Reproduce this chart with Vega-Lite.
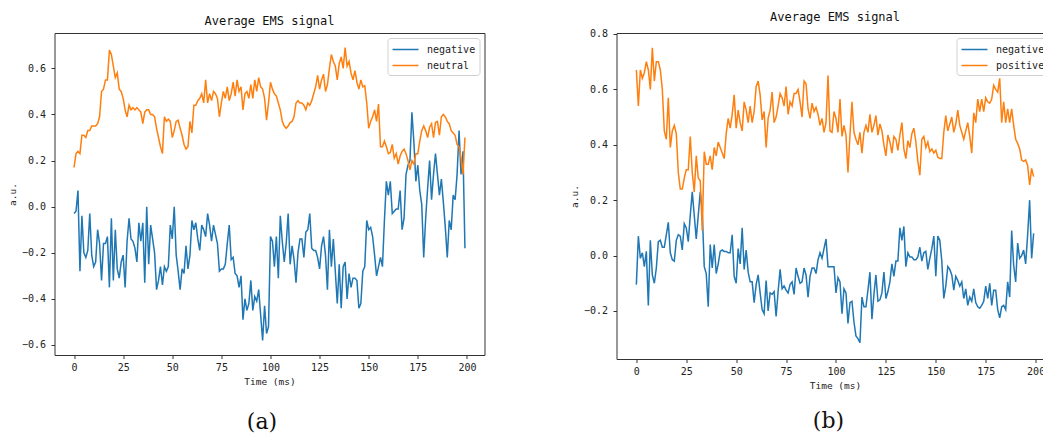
{
"$schema":"https://vega.github.io/schema/vega-lite/v6.json",
"padding":{"left":6.5,"top":10,"right":0,"bottom":0},
"background":"white",
"config":{
"font":"DejaVu Sans Mono",
"view":{"stroke":"#333","strokeWidth":1},
"axis":{"domain":false,"grid":false,"ticks":true,"tickColor":"#333","tickSize":3.5,"labelFont":"DejaVu Sans Mono","labelFontSize":10,"labelColor":"#222","titleFont":"DejaVu Sans Mono","titleFontSize":9.5,"titleFontWeight":"normal","titleColor":"#222"},
"axisX":{"labelPadding":3.5,"titlePadding":4},
"axisY":{"labelPadding":5.5,"titlePadding":4},
"title":{"font":"DejaVu Sans Mono","fontSize":12,"fontWeight":"normal","color":"#111","offset":5},
"legend":{"orient":"top-right","offset":5,"symbolType":"M-2,0H2","symbolSize":169,"symbolOffset":6.5,"symbolStrokeWidth":1.5,"labelFont":"DejaVu Sans Mono","labelFontSize":10,"labelColor":"#222","labelOffset":14,"fillColor":"white","strokeColor":"#d0d0d0","padding":4,"cornerRadius":3,"rowPadding":3}
},
"resolve":{"scale":{"color":"independent"},"legend":{"color":"independent"}},
"spacing":83,
"datasets":{
"a":[
{"t":0,"negative":-0.03,"neutral":0.17},{"t":1,"negative":-0.02,"neutral":0.23},{"t":2,"negative":0.07,"neutral":0.24},{"t":3,"negative":-0.28,"neutral":0.23},{"t":4,"negative":-0.04,"neutral":0.31},{"t":5,"negative":-0.2,"neutral":0.31},{"t":6,"negative":-0.22,"neutral":0.3},{"t":7,"negative":-0.19,"neutral":0.33},{"t":8,"negative":-0.03,"neutral":0.33},{"t":9,"negative":-0.21,"neutral":0.35},
{"t":10,"negative":-0.26,"neutral":0.35},{"t":11,"negative":-0.24,"neutral":0.35},{"t":12,"negative":-0.1,"neutral":0.36},{"t":13,"negative":-0.16,"neutral":0.39},{"t":14,"negative":-0.32,"neutral":0.5},{"t":15,"negative":-0.16,"neutral":0.51},{"t":16,"negative":-0.16,"neutral":0.55},{"t":17,"negative":-0.13,"neutral":0.55},{"t":18,"negative":-0.35,"neutral":0.68},{"t":19,"negative":-0.05,"neutral":0.66},
{"t":20,"negative":-0.32,"neutral":0.61},{"t":21,"negative":-0.1,"neutral":0.56},{"t":22,"negative":-0.27,"neutral":0.58},{"t":23,"negative":-0.31,"neutral":0.51},{"t":24,"negative":-0.24,"neutral":0.5},{"t":25,"negative":-0.21,"neutral":0.47},{"t":26,"negative":-0.35,"neutral":0.42},{"t":27,"negative":-0.15,"neutral":0.39},{"t":28,"negative":-0.05,"neutral":0.44},{"t":29,"negative":-0.14,"neutral":0.42},
{"t":30,"negative":-0.15,"neutral":0.43},{"t":31,"negative":-0.18,"neutral":0.42},{"t":32,"negative":-0.24,"neutral":0.43},{"t":33,"negative":-0.07,"neutral":0.42},{"t":34,"negative":-0.15,"neutral":0.41},{"t":35,"negative":-0.07,"neutral":0.36},{"t":36,"negative":-0.33,"neutral":0.41},{"t":37,"negative":0.0,"neutral":0.42},{"t":38,"negative":-0.25,"neutral":0.42},{"t":39,"negative":-0.08,"neutral":0.4},
{"t":40,"negative":-0.14,"neutral":0.4},{"t":41,"negative":-0.2,"neutral":0.39},{"t":42,"negative":-0.36,"neutral":0.34},{"t":43,"negative":-0.32,"neutral":0.3},{"t":44,"negative":-0.26,"neutral":0.26},{"t":45,"negative":-0.34,"neutral":0.23},{"t":46,"negative":-0.26,"neutral":0.39},{"t":47,"negative":-0.28,"neutral":0.37},{"t":48,"negative":-0.26,"neutral":0.38},{"t":49,"negative":-0.08,"neutral":0.37},
{"t":50,"negative":-0.14,"neutral":0.3},{"t":51,"negative":0.0,"neutral":0.33},{"t":52,"negative":-0.21,"neutral":0.37},{"t":53,"negative":-0.28,"neutral":0.375},{"t":54,"negative":-0.36,"neutral":0.34},{"t":55,"negative":-0.27,"neutral":0.31},{"t":56,"negative":-0.29,"neutral":0.27},{"t":57,"negative":-0.17,"neutral":0.25},{"t":58,"negative":-0.27,"neutral":0.26},{"t":59,"negative":-0.21,"neutral":0.37},
{"t":60,"negative":-0.06,"neutral":0.32},{"t":61,"negative":-0.1,"neutral":0.44},{"t":62,"negative":-0.07,"neutral":0.44},{"t":63,"negative":-0.14,"neutral":0.46},{"t":64,"negative":-0.19,"neutral":0.47},{"t":65,"negative":-0.08,"neutral":0.49},{"t":66,"negative":-0.1,"neutral":0.45},{"t":67,"negative":-0.13,"neutral":0.55},{"t":68,"negative":-0.03,"neutral":0.45},{"t":69,"negative":-0.08,"neutral":0.49},
{"t":70,"negative":-0.15,"neutral":0.46},{"t":71,"negative":-0.08,"neutral":0.5},{"t":72,"negative":-0.12,"neutral":0.49},{"t":73,"negative":-0.16,"neutral":0.47},{"t":74,"negative":-0.28,"neutral":0.39},{"t":75,"negative":-0.27,"neutral":0.45},{"t":76,"negative":-0.27,"neutral":0.5},{"t":77,"negative":-0.25,"neutral":0.47},{"t":78,"negative":-0.16,"neutral":0.52},{"t":79,"negative":-0.08,"neutral":0.46},
{"t":80,"negative":-0.23,"neutral":0.49},{"t":81,"negative":-0.22,"neutral":0.54},{"t":82,"negative":-0.29,"neutral":0.48},{"t":83,"negative":-0.3,"neutral":0.55},{"t":84,"negative":-0.35,"neutral":0.5},{"t":85,"negative":-0.3,"neutral":0.52},{"t":86,"negative":-0.49,"neutral":0.42},{"t":87,"negative":-0.4,"neutral":0.49},{"t":88,"negative":-0.45,"neutral":0.5},{"t":89,"negative":-0.42,"neutral":0.47},
{"t":90,"negative":-0.32,"neutral":0.53},{"t":91,"negative":-0.45,"neutral":0.47},{"t":92,"negative":-0.39,"neutral":0.55},{"t":93,"negative":-0.41,"neutral":0.5},{"t":94,"negative":-0.36,"neutral":0.56},{"t":95,"negative":-0.47,"neutral":0.52},{"t":96,"negative":-0.58,"neutral":0.51},{"t":97,"negative":-0.43,"neutral":0.47},{"t":98,"negative":-0.55,"neutral":0.375},{"t":99,"negative":-0.52,"neutral":0.45},
{"t":100,"negative":-0.13,"neutral":0.54},{"t":101,"negative":-0.15,"neutral":0.51},{"t":102,"negative":-0.26,"neutral":0.49},{"t":103,"negative":-0.13,"neutral":0.48},{"t":104,"negative":-0.31,"neutral":0.45},{"t":105,"negative":-0.04,"neutral":0.42},{"t":106,"negative":-0.15,"neutral":0.37},{"t":107,"negative":-0.24,"neutral":0.35},{"t":108,"negative":-0.16,"neutral":0.34},{"t":109,"negative":-0.03,"neutral":0.35},
{"t":110,"negative":-0.25,"neutral":0.365},{"t":111,"negative":-0.17,"neutral":0.37},{"t":112,"negative":-0.23,"neutral":0.39},{"t":113,"negative":-0.33,"neutral":0.45},{"t":114,"negative":-0.2,"neutral":0.46},{"t":115,"negative":-0.14,"neutral":0.45},{"t":116,"negative":-0.14,"neutral":0.45},{"t":117,"negative":-0.22,"neutral":0.44},{"t":118,"negative":-0.11,"neutral":0.42},{"t":119,"negative":-0.1,"neutral":0.45},
{"t":120,"negative":-0.03,"neutral":0.44},{"t":121,"negative":-0.18,"neutral":0.46},{"t":122,"negative":-0.19,"neutral":0.49},{"t":123,"negative":-0.19,"neutral":0.52},{"t":124,"negative":-0.22,"neutral":0.57},{"t":125,"negative":-0.27,"neutral":0.51},{"t":126,"negative":-0.17,"neutral":0.55},{"t":127,"negative":-0.13,"neutral":0.575},{"t":128,"negative":-0.21,"neutral":0.5},{"t":129,"negative":-0.36,"neutral":0.53},
{"t":130,"negative":-0.1,"neutral":0.6},{"t":131,"negative":-0.26,"neutral":0.66},{"t":132,"negative":-0.14,"neutral":0.63},{"t":133,"negative":-0.28,"neutral":0.61},{"t":134,"negative":-0.42,"neutral":0.55},{"t":135,"negative":-0.25,"neutral":0.62},{"t":136,"negative":-0.44,"neutral":0.65},{"t":137,"negative":-0.26,"neutral":0.6},{"t":138,"negative":-0.24,"neutral":0.69},{"t":139,"negative":-0.4,"neutral":0.61},
{"t":140,"negative":-0.29,"neutral":0.63},{"t":141,"negative":-0.35,"neutral":0.58},{"t":142,"negative":-0.31,"neutral":0.55},{"t":143,"negative":-0.31,"neutral":0.59},{"t":144,"negative":-0.32,"neutral":0.54},{"t":145,"negative":-0.44,"neutral":0.51},{"t":146,"negative":-0.42,"neutral":0.55},{"t":147,"negative":-0.28,"neutral":0.52},{"t":148,"negative":-0.26,"neutral":0.525},{"t":149,"negative":-0.06,"neutral":0.45},
{"t":150,"negative":-0.1,"neutral":0.34},{"t":151,"negative":-0.09,"neutral":0.37},{"t":152,"negative":-0.13,"neutral":0.39},{"t":153,"negative":-0.21,"neutral":0.42},{"t":154,"negative":-0.3,"neutral":0.37},{"t":155,"negative":-0.26,"neutral":0.445},{"t":156,"negative":-0.22,"neutral":0.26},{"t":157,"negative":-0.26,"neutral":0.26},{"t":158,"negative":-0.06,"neutral":0.285},{"t":159,"negative":0.11,"neutral":0.26},
{"t":160,"negative":0.05,"neutral":0.23},{"t":161,"negative":0.11,"neutral":0.235},{"t":162,"negative":-0.03,"neutral":0.27},{"t":163,"negative":-0.02,"neutral":0.21},{"t":164,"negative":-0.01,"neutral":0.23},{"t":165,"negative":-0.01,"neutral":0.185},{"t":166,"negative":0.07,"neutral":0.22},{"t":167,"negative":-0.1,"neutral":0.24},{"t":168,"negative":-0.05,"neutral":0.25},{"t":169,"negative":0.14,"neutral":0.23},
{"t":170,"negative":0.18,"neutral":0.2},{"t":171,"negative":0.2,"neutral":0.16},{"t":172,"negative":0.41,"neutral":0.2},{"t":173,"negative":0.28,"neutral":0.185},{"t":174,"negative":0.11,"neutral":0.23},{"t":175,"negative":0.18,"neutral":0.23},{"t":176,"negative":0.07,"neutral":0.285},{"t":177,"negative":0.01,"neutral":0.33},{"t":178,"negative":-0.22,"neutral":0.35},{"t":179,"negative":-0.05,"neutral":0.33},
{"t":180,"negative":0.08,"neutral":0.3},{"t":181,"negative":0.2,"neutral":0.345},{"t":182,"negative":0.03,"neutral":0.36},{"t":183,"negative":0.14,"neutral":0.3},{"t":184,"negative":0.23,"neutral":0.365},{"t":185,"negative":0.14,"neutral":0.37},{"t":186,"negative":0.05,"neutral":0.31},{"t":187,"negative":0.12,"neutral":0.39},{"t":188,"negative":0.02,"neutral":0.4},{"t":189,"negative":-0.09,"neutral":0.39},
{"t":190,"negative":-0.22,"neutral":0.37},{"t":191,"negative":-0.06,"neutral":0.36},{"t":192,"negative":-0.1,"neutral":0.33},{"t":193,"negative":0.05,"neutral":0.32},{"t":194,"negative":0.03,"neutral":0.31},{"t":195,"negative":0.14,"neutral":0.27},{"t":196,"negative":0.33,"neutral":0.26},{"t":197,"negative":0.14,"neutral":0.21},{"t":198,"negative":0.24,"neutral":0.14},{"t":199,"negative":-0.18,"neutral":0.3}
],
"b":[
{"t":0,"negative":-0.105,"positive":0.67},{"t":1,"negative":0.07,"positive":0.54},{"t":2,"negative":-0.01,"positive":0.67},{"t":3,"negative":0.01,"positive":0.64},{"t":4,"negative":-0.04,"positive":0.66},{"t":5,"negative":0.015,"positive":0.7},{"t":6,"negative":-0.18,"positive":0.67},{"t":7,"negative":0.055,"positive":0.6},{"t":8,"negative":-0.07,"positive":0.75},{"t":9,"negative":-0.1,"positive":0.63},
{"t":10,"negative":-0.045,"positive":0.7},{"t":11,"negative":0.05,"positive":0.7},{"t":12,"negative":0.055,"positive":0.67},{"t":13,"negative":0.03,"positive":0.6},{"t":14,"negative":0.03,"positive":0.45},{"t":15,"negative":0.075,"positive":0.42},{"t":16,"negative":0.12,"positive":0.57},{"t":17,"negative":0.01,"positive":0.39},{"t":18,"negative":-0.015,"positive":0.45},{"t":19,"negative":-0.02,"positive":0.47},
{"t":20,"negative":0.055,"positive":0.44},{"t":21,"negative":0.075,"positive":0.3},{"t":22,"negative":0.07,"positive":0.24},{"t":23,"negative":0.02,"positive":0.24},{"t":24,"negative":0.115,"positive":0.28},{"t":25,"negative":0.1,"positive":0.31},{"t":26,"negative":0.05,"positive":0.31},{"t":27,"negative":0.145,"positive":0.43},{"t":28,"negative":0.23,"positive":0.3},{"t":29,"negative":0.145,"positive":0.23},
{"t":30,"negative":0.06,"positive":0.36},{"t":31,"negative":0.145,"positive":0.28},{"t":32,"negative":0.23,"positive":0.27},{"t":33,"negative":0.16,"positive":0.09},{"t":34,"negative":-0.04,"positive":0.375},{"t":35,"negative":-0.065,"positive":0.33},{"t":36,"negative":-0.185,"positive":0.33},{"t":37,"negative":0.04,"positive":0.36},{"t":38,"negative":-0.045,"positive":0.31},{"t":39,"negative":0.04,"positive":0.39},
{"t":40,"negative":-0.065,"positive":0.36},{"t":41,"negative":-0.03,"positive":0.41},{"t":42,"negative":0.015,"positive":0.39},{"t":43,"negative":0.02,"positive":0.37},{"t":44,"negative":0.015,"positive":0.35},{"t":45,"negative":0.015,"positive":0.44},{"t":46,"negative":0.01,"positive":0.495},{"t":47,"negative":0.01,"positive":0.46},{"t":48,"negative":0.075,"positive":0.51},{"t":49,"negative":-0.075,"positive":0.58},
{"t":50,"negative":-0.1,"positive":0.46},{"t":51,"negative":0.025,"positive":0.525},{"t":52,"negative":-0.03,"positive":0.48},{"t":53,"negative":0.1,"positive":0.45},{"t":54,"negative":-0.05,"positive":0.555},{"t":55,"negative":0.02,"positive":0.525},{"t":56,"negative":-0.06,"positive":0.48},{"t":57,"negative":-0.095,"positive":0.54},{"t":58,"negative":-0.095,"positive":0.48},{"t":59,"negative":-0.17,"positive":0.52},
{"t":60,"negative":-0.105,"positive":0.61},{"t":61,"negative":-0.07,"positive":0.63},{"t":62,"negative":-0.135,"positive":0.58},{"t":63,"negative":-0.195,"positive":0.49},{"t":64,"negative":-0.21,"positive":0.52},{"t":65,"negative":-0.09,"positive":0.39},{"t":66,"negative":-0.2,"positive":0.495},{"t":67,"negative":-0.135,"positive":0.525},{"t":68,"negative":-0.14,"positive":0.59},{"t":69,"negative":-0.13,"positive":0.48},
{"t":70,"negative":-0.22,"positive":0.5},{"t":71,"negative":-0.13,"positive":0.54},{"t":72,"negative":-0.05,"positive":0.585},{"t":73,"negative":-0.12,"positive":0.57},{"t":74,"negative":-0.11,"positive":0.54},{"t":75,"negative":-0.125,"positive":0.61},{"t":76,"negative":-0.135,"positive":0.51},{"t":77,"negative":-0.105,"positive":0.555},{"t":78,"negative":-0.095,"positive":0.54},{"t":79,"negative":-0.14,"positive":0.585},
{"t":80,"negative":-0.045,"positive":0.585},{"t":81,"negative":-0.075,"positive":0.6},{"t":82,"negative":-0.1,"positive":0.555},{"t":83,"negative":-0.095,"positive":0.5},{"t":84,"negative":-0.045,"positive":0.63},{"t":85,"negative":-0.07,"positive":0.62},{"t":86,"negative":-0.15,"positive":0.53},{"t":87,"negative":-0.075,"positive":0.495},{"t":88,"negative":-0.045,"positive":0.55},{"t":89,"negative":-0.045,"positive":0.52},
{"t":90,"negative":-0.065,"positive":0.535},{"t":91,"negative":-0.015,"positive":0.51},{"t":92,"negative":0.01,"positive":0.47},{"t":93,"negative":-0.01,"positive":0.495},{"t":94,"negative":0.025,"positive":0.445},{"t":95,"negative":0.06,"positive":0.48},{"t":96,"negative":-0.04,"positive":0.65},{"t":97,"negative":-0.04,"positive":0.45},{"t":98,"negative":-0.04,"positive":0.445},{"t":99,"negative":-0.04,"positive":0.52},
{"t":100,"negative":-0.135,"positive":0.495},{"t":101,"negative":-0.08,"positive":0.445},{"t":102,"negative":-0.095,"positive":0.565},{"t":103,"negative":-0.21,"positive":0.43},{"t":104,"negative":-0.12,"positive":0.47},{"t":105,"negative":-0.135,"positive":0.435},{"t":106,"negative":-0.245,"positive":0.3},{"t":107,"negative":-0.17,"positive":0.435},{"t":108,"negative":-0.165,"positive":0.555},{"t":109,"negative":-0.24,"positive":0.445},
{"t":110,"negative":-0.29,"positive":0.42},{"t":111,"negative":-0.3,"positive":0.4},{"t":112,"negative":-0.315,"positive":0.445},{"t":113,"negative":-0.15,"positive":0.37},{"t":114,"negative":-0.185,"positive":0.445},{"t":115,"negative":-0.185,"positive":0.47},{"t":116,"negative":-0.125,"positive":0.445},{"t":117,"negative":-0.06,"positive":0.51},{"t":118,"negative":-0.23,"positive":0.445},{"t":119,"negative":-0.14,"positive":0.47},
{"t":120,"negative":-0.07,"positive":0.505},{"t":121,"negative":-0.165,"positive":0.435},{"t":122,"negative":-0.16,"positive":0.475},{"t":123,"negative":-0.135,"positive":0.45},{"t":124,"negative":-0.06,"positive":0.4},{"t":125,"negative":-0.155,"positive":0.36},{"t":126,"negative":-0.13,"positive":0.435},{"t":127,"negative":-0.095,"positive":0.41},{"t":128,"negative":-0.03,"positive":0.37},{"t":129,"negative":-0.075,"positive":0.43},
{"t":130,"negative":-0.02,"positive":0.42},{"t":131,"negative":-0.02,"positive":0.38},{"t":132,"negative":0.1,"positive":0.435},{"t":133,"negative":0.055,"positive":0.48},{"t":134,"negative":0.105,"positive":0.385},{"t":135,"negative":-0.04,"positive":0.35},{"t":136,"negative":0.01,"positive":0.415},{"t":137,"negative":-0.005,"positive":0.39},{"t":138,"negative":-0.005,"positive":0.44},{"t":139,"negative":-0.015,"positive":0.46},
{"t":140,"negative":-0.015,"positive":0.41},{"t":141,"negative":-0.005,"positive":0.34},{"t":142,"negative":0.03,"positive":0.29},{"t":143,"negative":-0.02,"positive":0.42},{"t":144,"negative":0.01,"positive":0.43},{"t":145,"negative":0.015,"positive":0.39},{"t":146,"negative":-0.05,"positive":0.41},{"t":147,"negative":-0.01,"positive":0.375},{"t":148,"negative":0.025,"positive":0.385},{"t":149,"negative":0.07,"positive":0.37},
{"t":150,"negative":-0.075,"positive":0.38},{"t":151,"negative":0.07,"positive":0.355},{"t":152,"negative":0.055,"positive":0.35},{"t":153,"negative":-0.02,"positive":0.35},{"t":154,"negative":-0.155,"positive":0.445},{"t":155,"negative":-0.11,"positive":0.505},{"t":156,"negative":-0.04,"positive":0.45},{"t":157,"negative":-0.05,"positive":0.475},{"t":158,"negative":-0.07,"positive":0.5},{"t":159,"negative":-0.125,"positive":0.445},
{"t":160,"negative":-0.075,"positive":0.475},{"t":161,"negative":-0.09,"positive":0.525},{"t":162,"negative":-0.11,"positive":0.47},{"t":163,"negative":-0.095,"positive":0.445},{"t":164,"negative":-0.155,"positive":0.42},{"t":165,"negative":-0.12,"positive":0.45},{"t":166,"negative":-0.18,"positive":0.48},{"t":167,"negative":-0.15,"positive":0.43},{"t":168,"negative":-0.165,"positive":0.37},{"t":169,"negative":-0.12,"positive":0.515},
{"t":170,"negative":-0.17,"positive":0.48},{"t":171,"negative":-0.185,"positive":0.565},{"t":172,"negative":-0.19,"positive":0.52},{"t":173,"negative":-0.18,"positive":0.565},{"t":174,"negative":-0.165,"positive":0.52},{"t":175,"negative":-0.11,"positive":0.57},{"t":176,"negative":-0.155,"positive":0.555},{"t":177,"negative":-0.1,"positive":0.55},{"t":178,"negative":-0.18,"positive":0.565},{"t":179,"negative":-0.125,"positive":0.615},
{"t":180,"negative":-0.125,"positive":0.6},{"t":181,"negative":-0.195,"positive":0.59},{"t":182,"negative":-0.225,"positive":0.64},{"t":183,"negative":-0.185,"positive":0.48},{"t":184,"negative":-0.18,"positive":0.555},{"t":185,"negative":-0.195,"positive":0.48},{"t":186,"negative":-0.095,"positive":0.53},{"t":187,"negative":-0.15,"positive":0.48},{"t":188,"negative":0.09,"positive":0.53},{"t":189,"negative":-0.035,"positive":0.47},
{"t":190,"negative":-0.095,"positive":0.42},{"t":191,"negative":0.045,"positive":0.405},{"t":192,"negative":-0.01,"positive":0.385},{"t":193,"negative":0.0,"positive":0.345},{"t":194,"negative":0.02,"positive":0.34},{"t":195,"negative":-0.03,"positive":0.345},{"t":196,"negative":0.075,"positive":0.325},{"t":197,"negative":0.2,"positive":0.255},{"t":198,"negative":-0.01,"positive":0.315},{"t":199,"negative":0.08,"positive":0.285}
]
},
"hconcat":[
{
"title":{"text":"(a)","orient":"bottom","font":"DejaVu Serif","fontSize":22,"color":"#111","offset":26,"anchor":"middle","frame":"bounds","dx":16},
"resolve":{"scale":{"color":"independent"},"legend":{"color":"independent"}},
"vconcat":[
{
"width":430,"height":322,
"title":{"text":"Average EMS signal"},
"data":{"name":"a"},
"transform":[{"fold":["negative","neutral"],"as":["series","value"]}],
"mark":{"type":"line","strokeWidth":1.5},
"encoding":{
"x":{"field":"t","type":"quantitative","scale":{"domain":[-9.95,208.95],"nice":false,"zero":false},"axis":{"values":[0,25,50,75,100,125,150,175,200],"title":"Time (ms)"}},
"y":{"field":"value","type":"quantitative","scale":{"domain":[-0.6435,0.7535],"nice":false,"zero":false},"axis":{"values":[-0.6,-0.4,-0.2,0,0.2,0.4,0.6],"format":".1f","title":"a.u."}},
"color":{"field":"series","type":"nominal","scale":{"domain":["negative","neutral"],"range":["#1f77b4","#ff7f0e"]},"legend":{"title":null,"orient":"top-right","offset":5}}
}
}
]
},
{
"title":{"text":"(b)","orient":"bottom","font":"DejaVu Serif","fontSize":22,"color":"#111","offset":21,"anchor":"middle","frame":"bounds","dx":17},
"resolve":{"scale":{"color":"independent"},"legend":{"color":"independent"}},
"vconcat":[
{
"width":437,"height":326,
"title":{"text":"Average EMS signal"},
"data":{"name":"b"},
"transform":[{"fold":["negative","positive"],"as":["series","value"]}],
"mark":{"type":"line","strokeWidth":1.5},
"encoding":{
"x":{"field":"t","type":"quantitative","scale":{"domain":[-9.95,208.95],"nice":false,"zero":false},"axis":{"values":[0,25,50,75,100,125,150,175,200],"title":"Time (ms)"}},
"y":{"field":"value","type":"quantitative","scale":{"domain":[-0.3735,0.8035],"nice":false,"zero":false},"axis":{"values":[-0.2,0,0.2,0.4,0.6,0.8],"format":".1f","title":"a.u."}},
"color":{"field":"series","type":"nominal","scale":{"domain":["negative","positive"],"range":["#1f77b4","#ff7f0e"]},"legend":{"title":null,"orient":"top-right","offset":5}}
}
}
]
}
]
}
